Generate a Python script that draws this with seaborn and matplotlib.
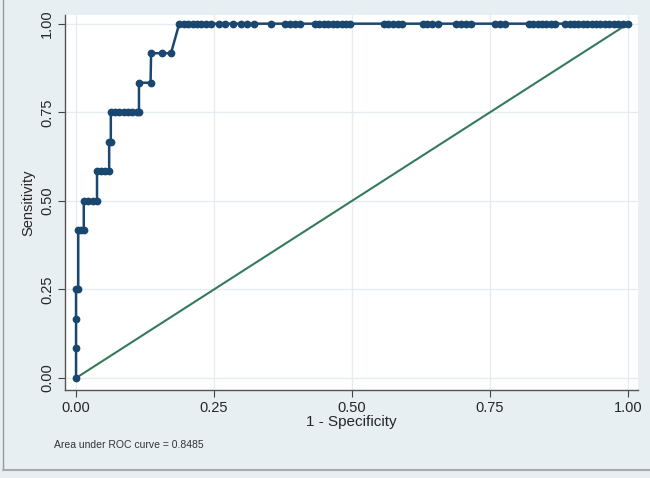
import numpy as np
import pandas as pd
import matplotlib
matplotlib.use('Agg')
import matplotlib.pyplot as plt
import seaborn as sns
from matplotlib.lines import Line2D

# ROC points (1 - specificity, sensitivity)
fpr = [0.0, 0.0, 0.0, 0.0, 0.004,
       0.004, 0.009, 0.014,
       0.014, 0.022, 0.030, 0.038,
       0.038, 0.046, 0.053, 0.060,
       0.060, 0.063,
       0.063, 0.070, 0.078, 0.086, 0.094, 0.102, 0.110, 0.114,
       0.114, 0.135,
       0.136, 0.155, 0.172,
       0.187, 0.195, 0.203, 0.211, 0.219, 0.227, 0.235, 0.245,
       0.259, 0.270, 0.285, 0.298, 0.310, 0.322, 0.354,
       0.379, 0.388, 0.397, 0.405,
       0.433, 0.441, 0.449, 0.457, 0.465, 0.473, 0.481, 0.489, 0.496,
       0.557, 0.565, 0.574, 0.583, 0.591,
       0.628, 0.636, 0.645, 0.655,
       0.688, 0.697, 0.706, 0.716,
       0.759, 0.768, 0.778,
       0.820, 0.828, 0.836, 0.844, 0.852, 0.860, 0.868,
       0.886, 0.894, 0.902, 0.910, 0.918, 0.926, 0.934, 0.942, 0.950,
       0.958, 0.966, 0.974, 0.982, 0.990, 1.0]
sens = [0.0, 1/12, 2/12, 3/12, 3/12,
        5/12, 5/12, 5/12,
        6/12, 6/12, 6/12, 6/12,
        7/12, 7/12, 7/12, 7/12,
        8/12, 8/12,
        9/12, 9/12, 9/12, 9/12, 9/12, 9/12, 9/12, 9/12,
        10/12, 10/12,
        11/12, 11/12, 11/12]
sens = sens + [1.0] * (len(fpr) - len(sens))

diag_x = [0, 1]
diag_y = [0, 1]

ticks = [0, 0.25, 0.5, 0.75, 1.0]
tick_labels = ['0.00', '0.25', '0.50', '0.75', '1.00']
auc_text = 'Area under ROC curve = 0.8485'

roc = pd.DataFrame({'fpr': fpr, 'sens': sens})

sns.set_style('white')
plt.rcParams['font.family'] = ['Liberation Sans', 'DejaVu Sans']

fig = plt.figure(figsize=(6.5, 4.78), dpi=100, facecolor='#e8eff2')
ax = fig.add_axes([0.1, 0.184, 0.8815, 0.785])
ax.set_facecolor('white')

for t in ticks:
    ax.axhline(t, color='#e6edf0', lw=1, zorder=0)
    ax.axvline(t, color='#e6edf0', lw=1, zorder=0)

sns.lineplot(x=diag_x, y=diag_y, color='#357a5b', lw=1.5, ax=ax, zorder=2)
sns.lineplot(data=roc, x='fpr', y='sens', sort=False, estimator=None,
             color='#1a476f', lw=1.8, marker='o', markersize=5.6,
             markeredgewidth=0, ax=ax, zorder=3)

ax.set_xlim(-0.02, 1.018)
ax.set_ylim(-0.034, 1.025)
ax.set_xticks(ticks)
ax.set_yticks(ticks)
ax.set_xticklabels(tick_labels, fontsize=10.5)
ax.set_yticklabels(tick_labels, fontsize=10.5, rotation=90, va='center')
ax.tick_params(axis='both', direction='out', length=5, width=0.8,
               color='#444444', pad=3, bottom=True, left=True)
ax.set_xlabel('1 - Specificity', fontsize=11, labelpad=0)
ax.set_ylabel('Sensitivity', fontsize=10.5, labelpad=3)

for s in ['top', 'right']:
    ax.spines[s].set_visible(False)
for s in ['left', 'bottom']:
    ax.spines[s].set_color('#555555')
    ax.spines[s].set_linewidth(1.0)

fig.text(54 / 650, 1 - 445 / 478, auc_text, fontsize=7.5, va='center',
         family=['Liberation Sans Narrow', 'Liberation Sans'], color='#333333')

# outer frame edges of the screenshot
fig.add_artist(Line2D([3 / 650, 3 / 650], [1 - 470 / 478, 1], color='#999999', lw=1))
fig.add_artist(Line2D([3 / 650, 1], [1 - 470 / 478, 1 - 470 / 478], color='#aaaaaa', lw=1.5))

fig.savefig('out.png', dpi=100, facecolor=fig.get_facecolor())
